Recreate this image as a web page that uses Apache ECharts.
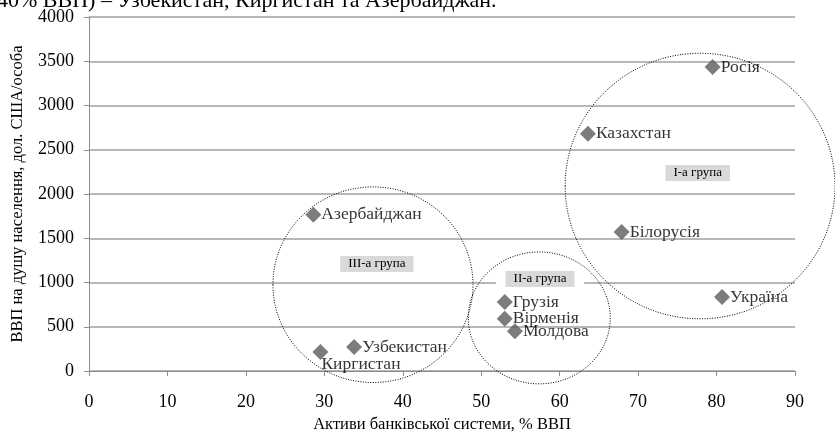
<!DOCTYPE html>
<html>
<head>
<meta charset="utf-8">
<script src="https://cdn.jsdelivr.net/npm/echarts@6/dist/echarts.min.js"></script>
<style>
  html, body { margin: 0; padding: 0; background: #fff; }
  #chart { width: 835px; height: 432px; }
</style>
</head>
<body>
<div id="chart"></div>
<script>
// країни та їх показники
var countries = ['Росія', 'Казахстан', 'Білорусія', 'Україна', 'Азербайджан', 'Узбекистан', 'Киргистан', 'Грузія', 'Вірменія', 'Молдова']
var assets = [79.5, 63.6, 67.9, 80.7, 28.6, 33.8, 29.5, 53.0, 53.0, 54.3]
var gdp = [3435, 2680, 1570, 835, 1765, 270, 215, 780, 590, 450]

// групи (еліпси в координатах даних)
var groupNames = ['I-а група', 'II-а група', 'III-а група']
var groupX = [77.9, 57.4, 36.2]
var groupY = [2090, 600, 975]
var groupRx = [17.2, 9.05, 12.75]
var groupRy = [1500, 745, 1105]
var groupLabelX = [77.6, 57.5, 36.7]
var groupLabelY = [2237, 1040, 1210]

var xTicks = [0, 10, 20, 30, 40, 50, 60, 70, 80, 90]
var yTicks = [0, 500, 1000, 1500, 2000, 2500, 3000, 3500, 4000]

var serif = '"Liberation Serif", "DejaVu Serif", serif'

var points = countries.map(function(name, i) {
  var item = { name: name, value: [assets[i], gdp[i]] }
  if (name === 'Киргистан') {
    item.label = { offset: [-7, 12] }
  }
  return item
})

var groups = groupNames.map(function(name, i) {
  return [groupX[i], groupY[i], groupRx[i], groupRy[i], groupLabelX[i], groupLabelY[i], i]
})

var chart = echarts.init(document.getElementById('chart'))
var option = {
  animation: false,
  graphic: [
    {
      type: 'text',
      left: -3,
      top: -10,
      style: {
        text: '40% ВВП) – Узбекистан, Киргистан та Азербайджан.',
        font: '22px ' + serif,
        fill: '#000'
      }
    }
  ],
  grid: {
    left: 89,
    right: 40,
    top: 17,
    bottom: 61,
    outerBoundsMode: 'none'
  },
  xAxis: {
    type: 'value',
    min: xTicks[0],
    max: xTicks[xTicks.length - 1],
    interval: 10,
    name: 'Активи банківської системи, % ВВП',
    nameLocation: 'middle',
    nameGap: 41,
    nameTextStyle: { fontFamily: serif, fontSize: 16.5, color: '#000' },
    axisLine: { show: true, lineStyle: { color: '#8c8c8c', width: 1 } },
    axisTick: { show: true, length: 5, inside: false, lineStyle: { color: '#8c8c8c' } },
    axisLabel: { fontFamily: serif, fontSize: 18, color: '#000', margin: 22 },
    splitLine: { show: false }
  },
  yAxis: {
    type: 'value',
    min: yTicks[0],
    max: yTicks[yTicks.length - 1],
    interval: 500,
    name: 'ВВП на душу населення, дол. США/особа',
    nameLocation: 'middle',
    nameGap: 63,
    nameTextStyle: { fontFamily: serif, fontSize: 16.5, color: '#000' },
    axisLine: { show: true, lineStyle: { color: '#8c8c8c', width: 1 } },
    axisTick: { show: true, length: 5, lineStyle: { color: '#8c8c8c' } },
    axisLabel: {
      fontFamily: serif,
      fontSize: 18,
      color: '#000',
      margin: 15,
      formatter: function(v) { return String(v) }
    },
    splitLine: { show: true, lineStyle: { color: '#9f9f9f', width: 1.5 } }
  },
  series: [
    {
      type: 'custom',
      clip: false,
      z: 3,
      data: groups,
      renderItem: function(params, api) {
        var c = api.coord([api.value(0), api.value(1)])
        var s = api.size([api.value(2), api.value(3)])
        var lp = api.coord([api.value(4), api.value(5)])
        var label = groupNames[api.value(6)]
        return {
          type: 'group',
          children: [
            {
              type: 'ellipse',
              shape: { cx: c[0], cy: c[1], rx: s[0], ry: s[1] },
              style: { fill: 'none', stroke: '#000', lineWidth: 1, lineDash: [1, 1.5] }
            },
            {
              type: 'rect',
              shape: { x: lp[0] - 44, y: lp[1] - 9, width: 88, height: 18 },
              style: { fill: '#fff' }
            },
            {
              type: 'text',
              x: lp[0],
              y: lp[1],
              style: {
                text: label,
                font: '13px ' + serif,
                fill: '#000',
                align: 'center',
                verticalAlign: 'middle',
                backgroundColor: '#d9d9d9',
                padding: [2, 8, 1, 8]
              }
            }
          ]
        }
      }
    },
    {
      type: 'scatter',
      z: 4,
      symbol: 'diamond',
      symbolSize: 16,
      itemStyle: { color: '#5b5b5b' },
      label: {
        show: true,
        position: 'right',
        distance: 0,
        formatter: '{b}',
        fontFamily: serif,
        fontSize: 17.5,
        color: '#000'
      },
      data: points
    }
  ]
}
chart.setOption(option)
</script>
</body>
</html>
